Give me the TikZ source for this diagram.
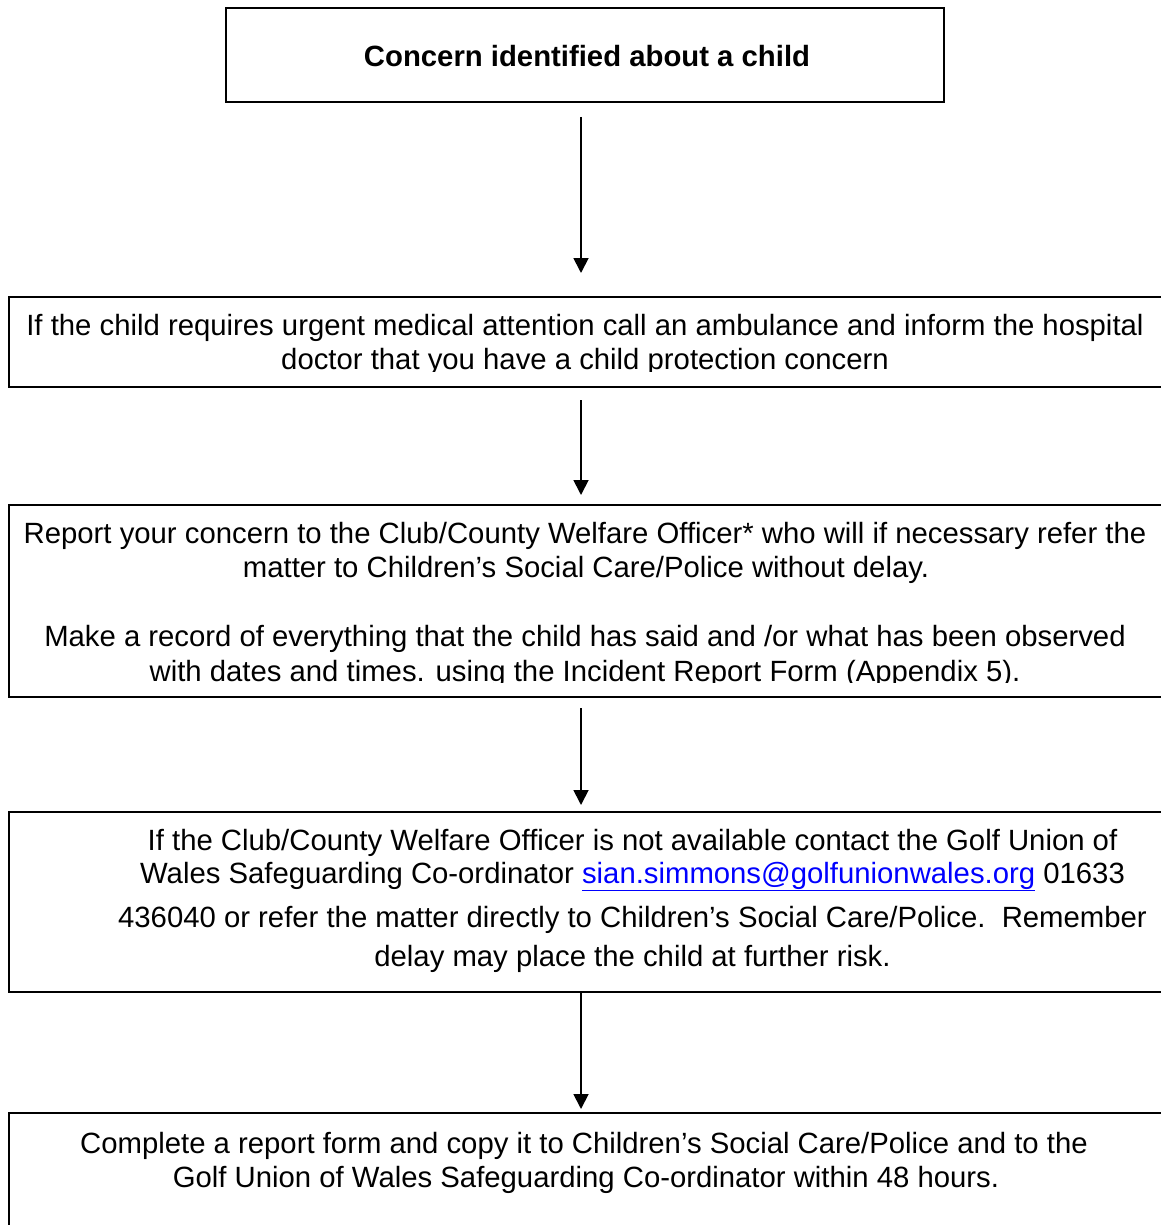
\documentclass[tikz,border=0pt]{standalone}
\usepackage{fontspec}
\setmainfont{Liberation Sans}
\usetikzlibrary{arrows.meta}
\definecolor{linkblue}{RGB}{0,0,255}
\begin{document}
\begin{tikzpicture}[x=1pt,y=-1pt,
  flowbox/.style={draw=black,line width=2pt,inner sep=0pt,outer sep=0pt,fill=none},
  txt/.style={anchor=base,inner sep=0pt,outer sep=0pt,font=\fontsize{29.3}{34}\selectfont},
  btxt/.style={txt,font=\fontsize{29.3}{34}\selectfont\bfseries},
  arr/.style={line width=1.8pt,-{Triangle[width=15pt,length=15pt]}}]
\useasboundingbox (0,0) rectangle (1160,1225);
\fill[white] (0,0) rectangle (1160,1225);

% boxes
\node[flowbox,minimum width=718pt,minimum height=94pt] (b1) at (585,55) {};
\node[flowbox,minimum width=1171pt,minimum height=90pt] (b2) at (594.5,342) {};
\node[flowbox,minimum width=1171pt,minimum height=192pt] (b3) at (594.5,601) {};
\node[flowbox,minimum width=1171pt,minimum height=180pt] (b4) at (594.5,902) {};
\node[flowbox,minimum width=1171pt,minimum height=127pt] (b5) at (594.5,1176.5) {};

% texts
\node[btxt] (t1) at (587,67) {Concern identified about a child};

\begin{scope}
\clip (0,290) rectangle (1160,371);
\node[txt] (t2a) at (585,335) {If the child requires urgent medical attention call an ambulance and inform the hospital};
\node[txt] (t2b) at (585,369.5) {doctor that you have a child protection concern};
\end{scope}

\begin{scope}
\clip (0,500) rectangle (1160,682);
\node[txt] (t3a) at (585,543) {Report your concern to the Club/County Welfare Officer* who will if necessary refer the};
\node[txt] (t3b) at (586,577.5) {matter to Children’s Social Care/Police without delay.};
\node[txt] (t3c) at (585,646.5) {Make a record of everything that the child has said and /or what has been observed};
\node[txt] (t3d) at (585,681) {with dates and times. using the Incident Report Form (Appendix 5).};
\end{scope}

\node[txt] (t4a) at (632.5,850) {If the Club/County Welfare Officer is not available contact the Golf Union of};
\node[txt] (t4b) at (632.5,883) {Wales Safeguarding Co-ordinator \textcolor{linkblue}{\underline{sian.simmons@golfunionwales.org}} 01633};
\node[txt] (t4c) at (632.5,927) {436040 or refer the matter directly to Children’s Social Care/Police.\ \ Remember};
\node[txt] (t4d) at (632.5,966) {delay may place the child at further risk.};

\node[txt] (t5a) at (584,1153) {Complete a report form and copy it to Children’s Social Care/Police and to the};
\node[txt] (t5b) at (586,1187) {Golf Union of Wales Safeguarding Co-ordinator within 48 hours.};

% connectors
\draw[arr] ([xshift=-4pt,yshift=-15pt]b1.south) -- ([xshift=-13.5pt,yshift=24pt]b2.north);
\draw[arr] ([xshift=-13.5pt,yshift=-13pt]b2.south) -- ([xshift=-13.5pt,yshift=10pt]b3.north);
\draw[arr] ([xshift=-13.5pt,yshift=-11pt]b3.south) -- ([xshift=-13.5pt,yshift=7pt]b4.north);
\draw[arr] ([xshift=-13.5pt]b4.south) -- ([xshift=-13.5pt,yshift=4pt]b5.north);
\end{tikzpicture}
\end{document}
